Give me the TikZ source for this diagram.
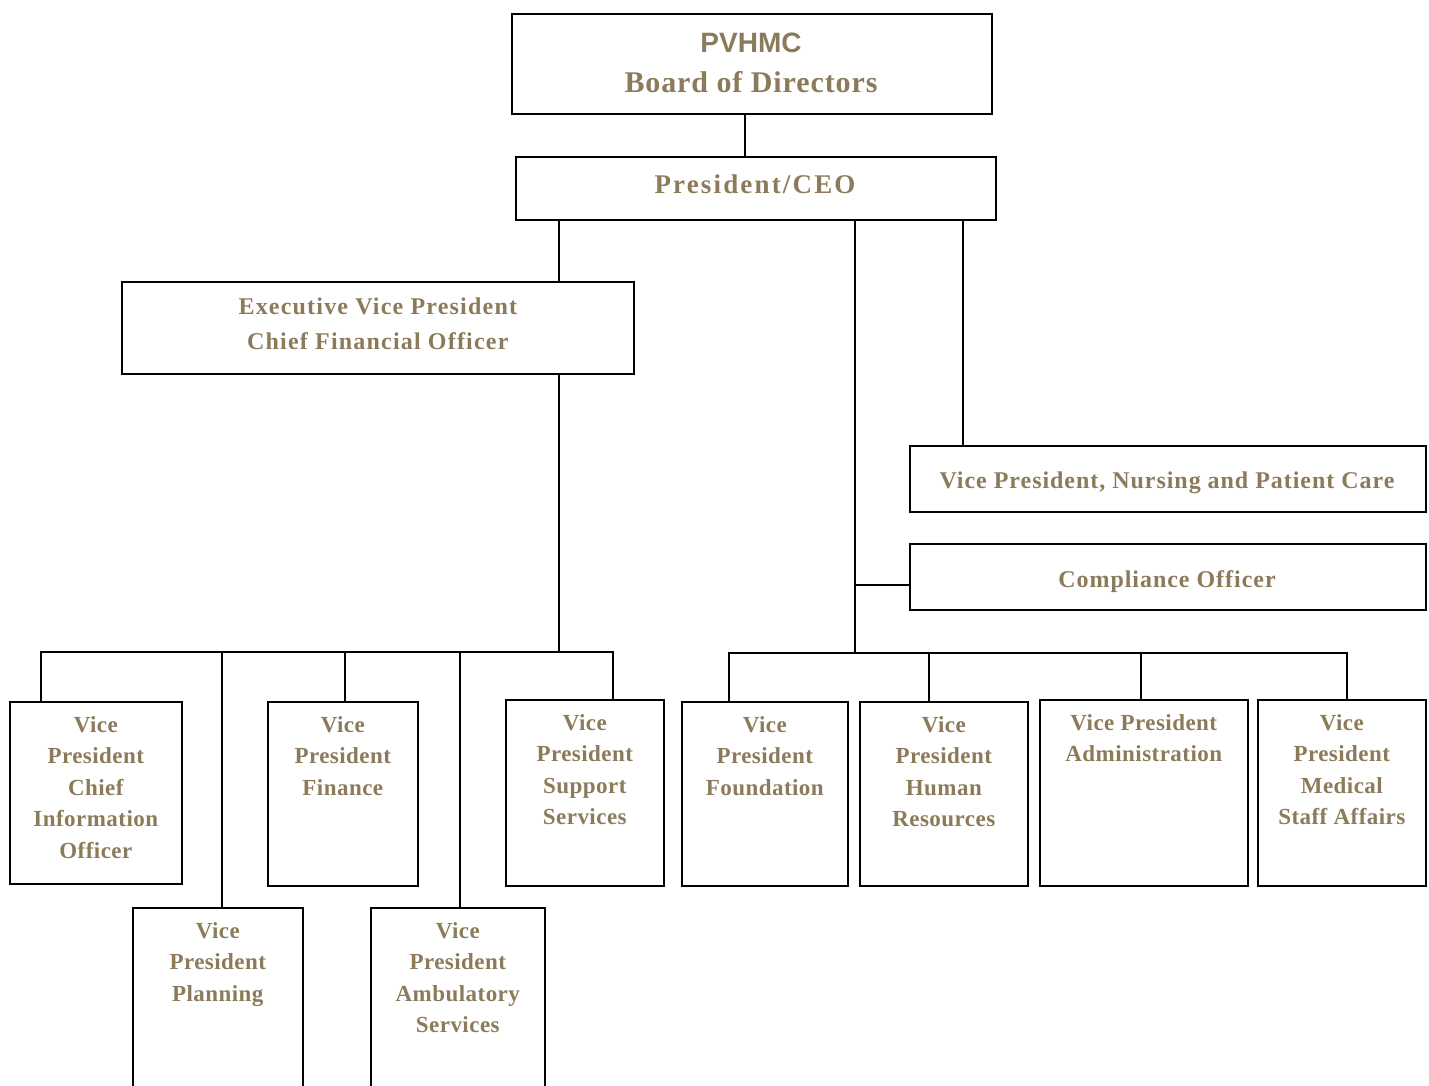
\documentclass[tikz,border=0pt]{standalone}
\usepackage{fontspec}
\setmainfont{Liberation Serif}
\newfontfamily\pvsans{Liberation Sans}
\definecolor{orgtan}{RGB}{139,123,90}
\newcommand\vpfont{\fontsize{23}{31.5}\selectfont\bfseries\addfontfeature{LetterSpace=2}}
\newcommand\midfont{\fontsize{24}{35}\selectfont\bfseries\addfontfeature{LetterSpace=4}}
\newcommand\evpfont{\fontsize{24}{35}\selectfont\bfseries\addfontfeature{LetterSpace=5}}
\newcommand\presfont{\fontsize{27}{30}\selectfont\bfseries\addfontfeature{LetterSpace=8}}
\newcommand\bodfont{\fontsize{30}{34}\selectfont\bfseries\addfontfeature{LetterSpace=3}}
\newcommand\pvfont{\pvsans\fontsize{28}{30}\selectfont\bfseries}
\tikzset{
  box/.style={draw=black, line width=1.6pt, anchor=north west, inner sep=0pt},
  conn/.style={draw=black, line width=1.6pt, line join=miter},
  vptext/.style={text=orgtan, font=\vpfont, align=center, inner sep=0pt, anchor=north},
  midtext/.style={text=orgtan, font=\evpfont, align=center, inner sep=0pt, anchor=north},
  onetext/.style={text=orgtan, inner sep=0pt, anchor=base},
}
\begin{document}
\begin{tikzpicture}[x=1pt, y=-1pt]
\useasboundingbox (0,0) rectangle (1429,1085);
% boxes
\node[box, minimum width=480pt, minimum height=100pt] (board) at (511,13) {};
\node[box, minimum width=480pt, minimum height=63pt] (pres) at (515,156) {};
\node[box, minimum width=512pt, minimum height=92pt] (evp) at (121,281) {};
\node[box, minimum width=516pt, minimum height=66pt] (nurs) at (909,445) {};
\node[box, minimum width=516pt, minimum height=66pt] (comp) at (909,543) {};
\node[box, minimum width=172pt, minimum height=182pt] (cio) at (9,701) {};
\node[box, minimum width=150pt, minimum height=184pt] (fin) at (267,701) {};
\node[box, minimum width=158pt, minimum height=186pt] (sup) at (505,699) {};
\node[box, minimum width=170pt, minimum height=200pt] (plan) at (132,907) {};
\node[box, minimum width=174pt, minimum height=200pt] (amb) at (370,907) {};
\node[box, minimum width=166pt, minimum height=184pt] (fou) at (681,701) {};
\node[box, minimum width=168pt, minimum height=184pt] (hr) at (859,701) {};
\node[box, minimum width=208pt, minimum height=186pt] (adm) at (1039,699) {};
\node[box, minimum width=168pt, minimum height=186pt] (med) at (1257,699) {};
% texts
\node[onetext, font=\pvfont] (pvhmc) at (751,52) {PVHMC};
\node[onetext, font=\bodfont] (bod) at (751,92) {Board of Directors};
\node[onetext, font=\presfont] (prest) at (755,193) {President/CEO};
\node[midtext] (evpt) at ([yshift=-8.5pt]evp.north) {\strut Executive Vice President\\\strut Chief Financial Officer};
\node[onetext, font=\midfont] (nurst) at (1167,488) {Vice President, Nursing and Patient Care};
\node[onetext, font=\midfont] (compt) at (1167,587) {Compliance Officer};
\node[vptext] (ciot) at ([yshift=-9pt]cio.north) {\strut Vice\\\strut President\\\strut Chief\\\strut Information\\\strut Officer};
\node[vptext] (fint) at ([yshift=-9pt]fin.north) {\strut Vice\\\strut President\\\strut Finance};
\node[vptext] (supt) at ([yshift=-9pt]sup.north) {\strut Vice\\\strut President\\\strut Support\\\strut Services};
\node[vptext] (plant) at ([yshift=-9pt]plan.north) {\strut Vice\\\strut President\\\strut Planning};
\node[vptext] (ambt) at ([yshift=-9pt]amb.north) {\strut Vice\\\strut President\\\strut Ambulatory\\\strut Services};
\node[vptext] (fout) at ([yshift=-9pt]fou.north) {\strut Vice\\\strut President\\\strut Foundation};
\node[vptext] (hrt) at ([yshift=-9pt]hr.north) {\strut Vice\\\strut President\\\strut Human\\\strut Resources};
\node[vptext] (admt) at ([yshift=-9pt]adm.north) {\strut Vice President\\\strut Administration};
\node[vptext] (medt) at ([yshift=-9pt]med.north) {\strut Vice\\\strut President\\\strut Medical\\\strut Staff Affairs};
% connector positions
\coordinate (xa) at (745,0);
\coordinate (xb) at (559,0);
\coordinate (xc) at (855,0);
\coordinate (xd) at (963,0);
\coordinate (lbus) at (0,652);
\coordinate (rbus) at (0,653);
\coordinate (cy) at (0,585);
\coordinate (dcio) at (41,0);
\coordinate (dplan) at (222,0);
\coordinate (dfin) at (345,0);
\coordinate (damb) at (460,0);
\coordinate (dsup) at (613,0);
\coordinate (dfou) at (729,0);
\coordinate (dhr) at (929,0);
\coordinate (dadm) at (1141,0);
\coordinate (dmed) at (1347,0);
% connectors
\draw[conn] (board.south -| xa) -- (pres.north -| xa);
\draw[conn] (pres.south -| xb) -- (evp.north -| xb);
\draw[conn] (evp.south -| xb) -- (xb |- lbus);
\draw[conn] (cio.north -| dcio) -- (dcio |- lbus) -- (dsup |- lbus) -- (sup.north -| dsup);
\draw[conn] (dplan |- lbus) -- (plan.north -| dplan);
\draw[conn] (dfin |- lbus) -- (fin.north -| dfin);
\draw[conn] (damb |- lbus) -- (amb.north -| damb);
\draw[conn] (pres.south -| xd) -- (nurs.north -| xd);
\draw[conn] (pres.south -| xc) -- (xc |- rbus);
\draw[conn] (xc |- cy) -- (comp.west |- cy);
\draw[conn] (fou.north -| dfou) -- (dfou |- rbus) -- (dmed |- rbus) -- (med.north -| dmed);
\draw[conn] (dhr |- rbus) -- (hr.north -| dhr);
\draw[conn] (dadm |- rbus) -- (adm.north -| dadm);
\end{tikzpicture}
\end{document}
